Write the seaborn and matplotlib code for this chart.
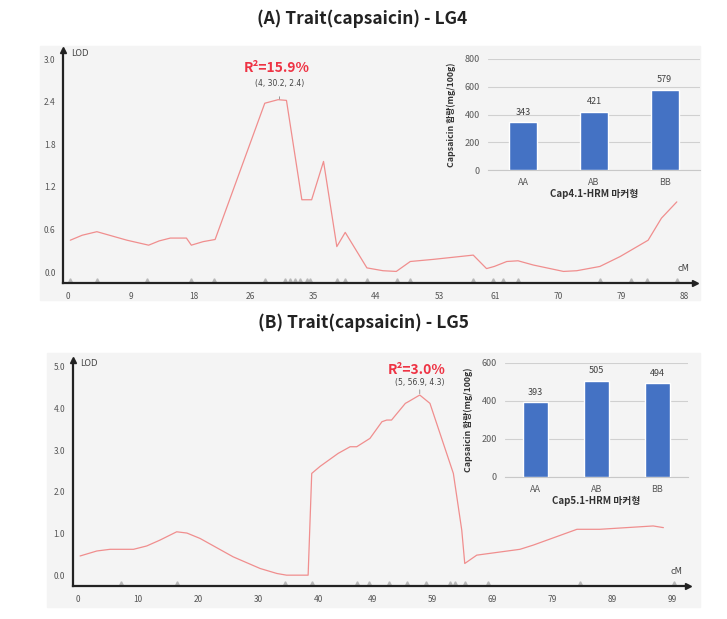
import numpy as np
import pandas as pd
import matplotlib
matplotlib.use('Agg')
import matplotlib.pyplot as plt
from matplotlib.patches import Rectangle
import seaborn as sns

sns.set_style('white')
plt.rcParams['font.family'] = ['Noto Sans CJK KR', 'DejaVu Sans']

# LOD profile, LG4
lg4_cm = [0.3, 2.0, 4.1, 8.4, 11.5, 13.0, 14.6, 16.9, 17.6, 19.3, 21.0, 28.1, 30.0, 31.2,
          33.4, 34.8, 36.5, 38.4, 39.6, 42.7, 45.0, 46.9, 48.9, 52.2, 57.9, 59.8, 60.9,
          62.7, 64.3, 66.5, 70.8, 72.7, 76.0, 78.9, 82.9, 84.8, 87.0]
lg4_lod = [0.45, 0.52, 0.57, 0.45, 0.38, 0.44, 0.48, 0.48, 0.38, 0.43, 0.46, 2.38, 2.43, 2.42,
           1.02, 1.02, 1.56, 0.36, 0.56, 0.06, 0.02, 0.01, 0.15, 0.18, 0.24, 0.05, 0.08,
           0.15, 0.16, 0.10, 0.01, 0.02, 0.08, 0.22, 0.45, 0.76, 0.99]
lg4_markers = [0.3, 4.1, 11.2, 17.5, 20.9, 28.1, 31.0, 31.7, 32.4, 33.1, 34.1, 34.6, 38.4,
               39.6, 42.7, 47.0, 48.9, 57.9, 60.7, 62.2, 64.3, 76.0, 80.5, 82.7, 87.0]
lg4_ticks = [0, 9, 18, 26, 35, 44, 53, 61, 70, 79, 88]
lg4_yticks = [0.0, 0.6, 1.2, 1.8, 2.4, 3.0]
lg4_peak = (30.2, 2.42)

# LOD profile, LG5
lg5_cm = [0.3, 3.1, 5.3, 9.2, 11.4, 13.6, 16.4, 18.1, 20.3, 25.8, 30.3, 33.1, 34.7, 38.3,
          38.9, 40.3, 43.3, 45.3, 46.4, 48.6, 50.6, 51.4, 52.2, 54.5, 55.0, 56.9, 58.6,
          62.5, 63.9, 64.4, 66.4, 73.6, 75.8, 83.1, 86.9, 95.8, 97.5]
lg5_lod = [0.46, 0.58, 0.62, 0.62, 0.70, 0.84, 1.04, 1.01, 0.88, 0.44, 0.16, 0.04, 0.0, 0.0,
           2.44, 2.61, 2.92, 3.08, 3.08, 3.28, 3.68, 3.72, 3.72, 4.12, 4.16, 4.32, 4.12,
           2.44, 1.08, 0.28, 0.48, 0.62, 0.72, 1.10, 1.10, 1.18, 1.14]
lg5_markers = [7.2, 16.4, 34.4, 38.9, 46.4, 48.4, 51.7, 54.7, 58.0, 62.0, 62.8, 64.4,
               68.3, 83.6, 99.2]
lg5_ticks = [0, 10, 20, 30, 40, 49, 59, 69, 79, 89, 99]
lg5_yticks = [0.0, 1.0, 2.0, 3.0, 4.0, 5.0]
lg5_peak = (56.9, 4.32)

# inset bar charts
genotypes = ['AA', 'AB', 'BB']
cap4_means = [343, 421, 579]
cap5_means = [393, 505, 494]

W, H = 727, 619
fig = plt.figure(figsize=(W / 100, H / 100), dpi=100)


def px_axes(l, t, r, b):
    return fig.add_axes([l / W, 1 - b / H, (r - l) / W, (b - t) / H])


def panel_bg(l, t, r, b):
    fig.patches.append(Rectangle((l / W, 1 - b / H), (r - l) / W, (b - t) / H,
                                 transform=fig.transFigure, color='#f4f4f4', zorder=-5))


def lod_panel(ax, cm, lod, markers, ticks, yticks, xlim, ylim, peak, label, r2, dy):
    ax.set_facecolor('none')
    sns.lineplot(x=cm, y=lod, ax=ax, color='#f08e8e', lw=0.9, sort=False, estimator=None)
    ax.plot(markers, [0.012] * len(markers), '^', color='#b8b8b8', ms=2.5,
            transform=ax.get_xaxis_transform(), clip_on=False)
    ax.set_xlim(*xlim)
    ax.set_ylim(*ylim)
    ax.set_xticks(ticks)
    ax.set_yticks(yticks)
    ax.set_yticklabels([f'{v:.1f}' for v in yticks])
    for s in ['top', 'right']:
        ax.spines[s].set_visible(False)
    for s in ['left', 'bottom']:
        ax.spines[s].set_color('#222222')
        ax.spines[s].set_linewidth(1.6)
    ax.tick_params(direction='inout', length=5, width=1.4, color='#222222',
                   labelsize=6, labelcolor='#555555', pad=3)
    ax.tick_params(axis='x', pad=4)
    ax.plot(0, 1, '^', color='#222222', ms=5, transform=ax.transAxes, clip_on=False)
    ax.plot(1, 0, '>', color='#222222', ms=5, transform=ax.transAxes, clip_on=False)
    ax.text(0.012, 0.985, 'LOD', transform=ax.transAxes, fontsize=6, color='#444444',
            va='center', ha='left', family='DejaVu Sans')
    ax.text(0.982, 0.045, 'cM', transform=ax.transAxes, fontsize=6, color='#444444',
            va='bottom', ha='center', family='DejaVu Sans')
    ax.set_xlabel('')
    ax.set_ylabel('')
    ax.annotate(label, xy=peak, xytext=(0, dy[0]), textcoords='offset pixels',
                ha='center', va='center', fontsize=5.5, color='#444444',
                family='DejaVu Sans',
                arrowprops=dict(arrowstyle='-', color='#888888', lw=0.6,
                                shrinkA=4, shrinkB=1))
    ax.annotate(r2, xy=peak, xytext=(-3, dy[1]), textcoords='offset pixels',
                ha='center', va='center', fontsize=10, fontweight='bold', color='#ee3344')


def bar_inset(ax, values, yticks, xlabel):
    ax.set_facecolor('none')
    sns.barplot(x=genotypes, y=values, color='#4472c4', saturation=1, width=0.4,
                ax=ax, zorder=3)
    ax.set_xlim(-0.5, 2.5)
    ax.set_ylim(yticks[0], yticks[-1])
    ax.set_yticks(yticks)
    ax.set_axisbelow(True)
    ax.yaxis.grid(True, color='#d0d0d0', lw=0.8)
    for s in ['top', 'right', 'left']:
        ax.spines[s].set_visible(False)
    ax.spines['bottom'].set_color('#c8c8c8')
    ax.tick_params(length=0, labelsize=6.5, labelcolor='#595959', pad=6)
    ax.bar_label(ax.containers[0], fontsize=6.5, color='#404040', padding=4)
    ax.set_xlabel(xlabel, fontsize=7, fontweight='bold', color='#333333', labelpad=1)
    ax.set_ylabel('Capsaicin 함량(mg/100g)', fontsize=6.3, fontweight='bold',
                  color='#333333', labelpad=6)


# panel A
panel_bg(40, 46, 700, 300)
fig.text(362 / W, 1 - 19 / H, '(A) Trait(capsaicin) - LG4', ha='center', va='center',
         fontsize=12.5, fontweight='bold', color='#222222')
axA = px_axes(63.3, 50, 695, 283)
lod_panel(axA, lg4_cm, lg4_lod, lg4_markers, lg4_ticks, lg4_yticks,
          (-0.7, 89.6), (-0.153, 3.13), lg4_peak, '(4, 30.2, 2.4)', 'R²=15.9%', (17, 32))
insA = px_axes(488, 59, 700, 170)
bar_inset(insA, cap4_means, [0, 200, 400, 600, 800], 'Cap4.1-HRM 마커형')

# panel B
panel_bg(47, 353, 700, 607)
fig.text(363 / W, 1 - 323 / H, '(B) Trait(capsaicin) - LG5', ha='center', va='center',
         fontsize=12.5, fontweight='bold', color='#222222')
axB = px_axes(72.7, 360, 688, 586)
lod_panel(axB, lg5_cm, lg5_lod, lg5_markers, lg5_ticks, lg5_yticks,
          (-0.93, 101.6), (-0.26, 5.16), lg5_peak, '(5, 56.9, 4.3)', 'R²=3.0%', (13, 25))
insB = px_axes(505, 363, 688, 477)
bar_inset(insB, cap5_means, [0, 200, 400, 600], 'Cap5.1-HRM 마커형')

fig.savefig('out.png', dpi=100, facecolor='white')
